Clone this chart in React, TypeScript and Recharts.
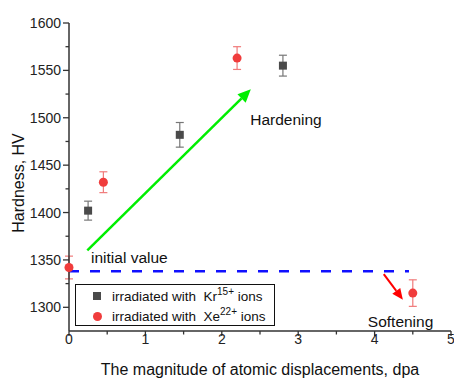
import {
  ErrorBar,
  Label,
  Legend,
  ReferenceDot,
  ReferenceLine,
  Scatter,
  ScatterChart,
  XAxis,
  YAxis,
} from "recharts";

// Kr15+ irradiation
const krDose = [0.25, 1.45, 2.8];
const krHardness = [1402, 1482, 1555];
const krError = [10, 13, 11];

// Xe22+ irradiation
const xeDose = [0, 0.45, 2.2, 4.5];
const xeHardness = [1342, 1432, 1563, 1315];
const xeError = [12, 11, 12, 14];

const xTicks = [0, 0.5, 1, 1.5, 2, 2.5, 3, 3.5, 4, 4.5, 5];
const yTicks = [1300, 1325, 1350, 1375, 1400, 1425, 1450, 1475, 1500, 1525, 1550, 1575, 1600];

const initialValue = 1338;
const initialLineEnd = 4.45;
const hardeningArrow = [{ x: 0.24, y: 1360 }, { x: 2.38, y: 1530 }];
const softeningArrow = [{ x: 4.12, y: 1335 }, { x: 4.37, y: 1308 }];

const notes = [
  { x: 2.84, y: 1498, text: "Hardening" },
  { x: 0.79, y: 1353, text: "initial value" },
  { x: 4.34, y: 1285, text: "Softening" },
];

const FONT = '"Liberation Sans", Arial, sans-serif';
const AXIS = "#333";

const krData = krDose.map((x, i) => ({ x, y: krHardness[i], err: krError[i] }));
const xeData = xeDose.map((x, i) => ({ x, y: xeHardness[i], err: xeError[i] }));

function YTick({ x, y, payload }: any) {
  const major = payload.value % 50 === 0;
  return (
    <g>
      <line x1={x} x2={x - (major ? 6 : 3.5)} y1={y} y2={y} stroke={AXIS} strokeWidth={1.3} />
      {major && (
        <text x={x - 8} y={y} textAnchor="end" dominantBaseline="central" fontSize={14} fill="#222" fontFamily={FONT}>
          {payload.value}
        </text>
      )}
    </g>
  );
}

function XTick({ x, y, payload }: any) {
  const major = Number.isInteger(payload.value);
  return (
    <g>
      <line x1={x} x2={x} y1={y} y2={y + (major ? 5 : 3.5)} stroke={AXIS} strokeWidth={1.3} />
      {major && (
        <text x={x} y={y + 12.5} textAnchor="middle" fontSize={14} fill="#222" fontFamily={FONT}>
          {payload.value}
        </text>
      )}
    </g>
  );
}

const arrow = (color: string, width: number, head: number) => (props: any) => {
  const { x1, y1, x2, y2 } = props;
  const a = Math.atan2(y2 - y1, x2 - x1);
  const bx = x2 - head * Math.cos(a);
  const by = y2 - head * Math.sin(a);
  const h = head * 0.45;
  return (
    <g>
      <line x1={x1} y1={y1} x2={bx} y2={by} stroke={color} strokeWidth={width} />
      <polygon
        points={`${x2},${y2} ${bx - h * Math.sin(a)},${by + h * Math.cos(a)} ${bx + h * Math.sin(a)},${by - h * Math.cos(a)}`}
        fill={color}
      />
    </g>
  );
};

const noteShape = (text: string) => (props: any) => (
  <text x={props.cx} y={props.cy} textAnchor="middle" dominantBaseline="central" fontSize={15.5} fill="#111" fontFamily={FONT}>
    {text}
  </text>
);

const squareShape = (props: any) => (
  <rect x={props.cx - 4} y={props.cy - 4} width={8} height={8} fill="#4a4a4a" />
);
const circleShape = (props: any) => <circle cx={props.cx} cy={props.cy} r={4.5} fill="#f03c3c" />;

function LegendBox() {
  const row = { display: "flex", alignItems: "center", height: 20, whiteSpace: "pre" as const };
  const sup = { fontSize: 10, position: "relative" as const, top: -5 };
  return (
    <div
      style={{
        border: "1.5px solid #111",
        width: 200,
        height: 42,
        boxSizing: "border-box",
        padding: "1px 0 0 17px",
        fontFamily: FONT,
        fontSize: 13.5,
        color: "#111",
        background: "#fff",
      }}
    >
      <div style={row}>
        <span style={{ width: 8, height: 8, background: "#4a4a4a", marginRight: 11 }} />
        irradiated with  Kr<span style={sup}>15+</span> ions
      </div>
      <div style={row}>
        <span style={{ width: 9, height: 9, borderRadius: "50%", background: "#f03c3c", marginRight: 10 }} />
        irradiated with  Xe<span style={sup}>22+</span> ions
      </div>
    </div>
  );
}

export default function App() {
  return (
    <div style={{ position: "absolute", left: 0, top: 0, background: "#fff" }}>
      <ScatterChart width={454} height={378} margin={{ top: 23, right: 3, bottom: 0, left: 0 }}>
        <XAxis
          type="number"
          dataKey="x"
          domain={[0, 5]}
          ticks={xTicks}
          interval={0}
          height={47}
          tickSize={0}
          tickMargin={0}
          tickLine={false}
          tick={<XTick />}
          axisLine={{ stroke: AXIS, strokeWidth: 1.5 }}
        >
          <Label
            content={({ viewBox }: any) => (
              <text
                x={viewBox.x + viewBox.width / 2}
                y={viewBox.y + 43.5}
                textAnchor="middle"
                fontSize={16}
                fill="#111"
                fontFamily={FONT}
              >
                The magnitude of atomic displacements, dpa
              </text>
            )}
          />
        </XAxis>
        <YAxis
          type="number"
          dataKey="y"
          domain={[1275, 1600]}
          ticks={yTicks}
          interval={0}
          width={69}
          tickSize={0}
          tickMargin={0}
          tickLine={false}
          tick={<YTick />}
          axisLine={{ stroke: AXIS, strokeWidth: 1.5 }}
        >
          <Label
            content={({ viewBox }: any) => {
              const cx = viewBox.x + 18;
              const cy = viewBox.y + viewBox.height / 2 + 6;
              return (
                <text
                  x={cx}
                  y={cy}
                  transform={`rotate(-90 ${cx} ${cy})`}
                  textAnchor="middle"
                  dominantBaseline="central"
                  fontSize={16}
                  fill="#111"
                  fontFamily={FONT}
                >
                  Hardness, HV
                </text>
              );
            }}
          />
        </YAxis>
        <ReferenceLine
          segment={[{ x: 0, y: initialValue }, { x: initialLineEnd, y: initialValue }]}
          stroke="#1010ff"
          strokeWidth={2.5}
          strokeDasharray="10 11"
        />
        <ReferenceLine segment={hardeningArrow} shape={arrow("#00ee00", 2.5, 13)} />
        <ReferenceLine segment={softeningArrow} shape={arrow("#ff0000", 2, 11)} />
        {notes.map((n) => (
          <ReferenceDot key={n.text} x={n.x} y={n.y} r={0} shape={noteShape(n.text)} />
        ))}
        <Scatter name="Kr" data={krData} shape={squareShape} isAnimationActive={false}>
          <ErrorBar dataKey="err" direction="y" width={4} stroke="#777" strokeWidth={1.2} isAnimationActive={false} />
        </Scatter>
        <Scatter name="Xe" data={xeData} shape={circleShape} isAnimationActive={false}>
          <ErrorBar dataKey="err" direction="y" width={4} stroke="#f07a7a" strokeWidth={1.2} isAnimationActive={false} />
        </Scatter>
        <Legend
          layout="vertical"
          align="center"
          verticalAlign="middle"
          content={<LegendBox />}
          wrapperStyle={{ left: 75, top: 284, width: 200 }}
        />
      </ScatterChart>
    </div>
  );
}
